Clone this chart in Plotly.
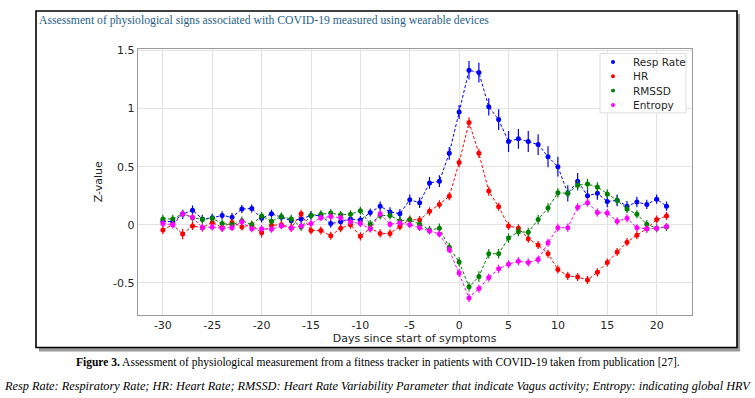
import plotly.graph_objects as go

days = list(range(-30, 22))

resp_rate = [0.03, 0.025, 0.09, 0.125, 0.05, 0.06, 0.08, 0.065, 0.135, 0.14, 0.055, 0.095,
             0.065, 0.035, 0.05, 0.08, 0.08, 0.01, 0.025, 0.05, 0.04, 0.105, 0.16, 0.11, 0.095,
             0.215, 0.19, 0.36, 0.375, 0.615, 0.97, 1.33, 1.31, 1.015, 0.905, 0.716, 0.74,
             0.716, 0.69, 0.585, 0.50, 0.27, 0.375, 0.25, 0.27, 0.20, 0.21, 0.16, 0.195,
             0.175, 0.22, 0.16]
resp_err = [0.035, 0.035, 0.04, 0.04, 0.035, 0.035, 0.035, 0.035, 0.035, 0.035, 0.035, 0.035,
            0.035, 0.035, 0.035, 0.035, 0.035, 0.035, 0.035, 0.035, 0.035, 0.035, 0.04, 0.04, 0.04,
            0.045, 0.045, 0.05, 0.05, 0.055, 0.06, 0.08, 0.085, 0.075, 0.09, 0.09, 0.085,
            0.09, 0.09, 0.09, 0.085, 0.07, 0.07, 0.055, 0.055, 0.05, 0.05, 0.045, 0.045,
            0.04, 0.04, 0.04]

hr = [-0.045, 0.0, -0.08, -0.01, -0.025, 0.02, -0.025, 0.02, -0.02, 0.0, -0.07, -0.005,
      0.0, -0.025, 0.095, -0.05, -0.05, -0.095, -0.03, 0.0, -0.1, -0.03, -0.075, -0.075, -0.015,
      0.045, 0.04, 0.115, 0.175, 0.245, 0.535, 0.88, 0.615, 0.29, 0.155, -0.01, -0.03,
      -0.12, -0.175, -0.25, -0.385, -0.44, -0.45, -0.475, -0.41, -0.325, -0.235, -0.15, -0.09,
      -0.035, 0.045, 0.075]
hr_err = [0.035, 0.03, 0.045, 0.035, 0.035, 0.03, 0.035, 0.035, 0.03, 0.035, 0.04, 0.035,
          0.035, 0.035, 0.035, 0.035, 0.035, 0.035, 0.035, 0.035, 0.035, 0.035, 0.035, 0.035, 0.035,
          0.035, 0.035, 0.035, 0.035, 0.035, 0.04, 0.045, 0.04, 0.04, 0.035, 0.035, 0.035,
          0.035, 0.035, 0.035, 0.035, 0.035, 0.035, 0.035, 0.035, 0.035, 0.035, 0.035, 0.035,
          0.035, 0.035, 0.035]

rmssd = [0.05, 0.05, 0.095, 0.06, 0.045, 0.055, 0.01, 0.0, 0.035, 0.0, 0.075, 0.03,
         0.07, 0.05, -0.02, 0.08, 0.09, 0.1, 0.085, 0.09, 0.12, 0.005, 0.08, 0.08, 0.035,
         0.04, 0.005, -0.045, -0.03, -0.195, -0.32, -0.535, -0.445, -0.25, -0.25, -0.115, -0.06,
         -0.065, 0.045, 0.145, 0.275, 0.27, 0.34, 0.35, 0.325, 0.265, 0.21, 0.135, 0.09,
         0.005, -0.03, -0.02]
rmssd_err = [0.035, 0.035, 0.035, 0.035, 0.035, 0.035, 0.035, 0.035, 0.035, 0.035, 0.035, 0.035,
             0.035, 0.035, 0.035, 0.035, 0.035, 0.035, 0.035, 0.035, 0.035, 0.035, 0.035, 0.035, 0.035,
             0.035, 0.035, 0.035, 0.04, 0.04, 0.04, 0.04, 0.045, 0.04, 0.04, 0.04, 0.04,
             0.04, 0.04, 0.04, 0.04, 0.04, 0.045, 0.045, 0.04, 0.04, 0.04, 0.035, 0.035,
             0.035, 0.035, 0.035]

entropy = [0.01, 0.0, 0.095, 0.065, -0.025, -0.02, -0.03, -0.025, 0.025, -0.035, -0.035, -0.04,
           -0.01, -0.03, -0.01, 0.01, 0.06, 0.07, 0.06, 0.025, 0.01, -0.035, 0.095, 0.005, 0.015,
           0.0, -0.025, -0.055, -0.08, -0.215, -0.415, -0.63, -0.55, -0.455, -0.38, -0.34, -0.315,
           -0.325, -0.30, -0.155, -0.025, -0.025, 0.15, 0.19, 0.105, 0.10, 0.03, 0.055, -0.025,
           -0.035, -0.03, -0.015]
entropy_err = [0.03, 0.03, 0.03, 0.03, 0.03, 0.03, 0.03, 0.03, 0.03, 0.03, 0.03, 0.03,
               0.03, 0.03, 0.03, 0.03, 0.03, 0.03, 0.03, 0.03, 0.03, 0.03, 0.03, 0.03, 0.03,
               0.03, 0.03, 0.03, 0.03, 0.03, 0.035, 0.035, 0.035, 0.035, 0.035, 0.035, 0.035,
               0.035, 0.035, 0.035, 0.035, 0.035, 0.035, 0.035, 0.035, 0.035, 0.035, 0.035, 0.03,
               0.03, 0.03, 0.03]

series_names = ["Resp Rate", "HR", "RMSSD", "Entropy"]
series_values = [resp_rate, hr, rmssd, entropy]
series_errors = [resp_err, hr_err, rmssd_err, entropy_err]
series_colors = ["#0000ff", "#ff0000", "#008000", "#ff00ff"]

x_ticks = [-30, -25, -20, -15, -10, -5, 0, 5, 10, 15, 20]
x_tick_labels = ["-30", "-25", "-20", "-15", "-10", "-5", "0", "5", "10", "15", "20"]
y_ticks = [-0.5, 0, 0.5, 1, 1.5]
y_tick_labels = ["-0.5", "0", "0.5", "1", "1.5"]

chart_title = "Assessment of physiological signs associated with COVID-19 measured using wearable devices"
caption_1 = "<b>Figure 3.</b> Assessment of physiological measurement from a fitness tracker in patients with COVID-19 taken from publication [27]."
caption_2 = "<i>Resp Rate: Respiratory Rate; HR: Heart Rate; RMSSD: Heart Rate Variability Parameter that indicate Vagus activity; Entropy: indicating global HRV</i>"

W, H = 755, 398
fig = go.Figure()

for name, vals, errs, col in zip(series_names, series_values, series_errors, series_colors):
    fig.add_trace(go.Scatter(
        x=days, y=vals, mode="lines+markers", name=name, showlegend=False,
        line=dict(color=col, width=1, dash="3px,2px"),
        marker=dict(color=col, size=5),
        error_y=dict(type="data", array=errs, visible=True, color=col, thickness=1.2, width=0),
    ))


def px(x):
    return x / W


def py(y):
    return (H - y) / H


shapes = [
    # shadow of the framed panel
    dict(type="rect", xref="paper", yref="paper", x0=px(39), x1=px(740), y0=py(351), y1=py(10),
         fillcolor="#9a9a9a", line=dict(width=0), layer="below"),
    # framed panel
    dict(type="rect", xref="paper", yref="paper", x0=px(36), x1=px(737), y0=py(347), y1=py(7),
         fillcolor="white", line=dict(color="black", width=1.6), layer="below"),
    # legend frame
    dict(type="rect", xref="paper", yref="paper", x0=px(600), x1=px(686), y0=py(110), y1=py(50),
         fillcolor="white", line=dict(color="#dddddd", width=1), layer="above"),
]

annotations = [
    dict(text=chart_title, xref="paper", yref="paper", x=px(37), y=py(17), xanchor="left",
         yanchor="middle", showarrow=False,
         font=dict(family="Liberation Serif", size=11.7, color="#1f5f88")),
    dict(text=caption_1, xref="paper", yref="paper", x=px(378), y=py(362), xanchor="center",
         yanchor="middle", showarrow=False,
         font=dict(family="Liberation Serif", size=11.5, color="black")),
    dict(text=caption_2, xref="paper", yref="paper", x=px(377), y=py(386), xanchor="center",
         yanchor="middle", showarrow=False,
         font=dict(family="Liberation Serif", size=12.3, color="black")),
]

# legend entries (marker dot + label)
legend_rows = [58.5, 73, 87.5, 102]
for name, col, ry in zip(series_names, series_colors, legend_rows):
    shapes.append(dict(type="circle", xref="paper", yref="paper",
                       x0=px(611), x1=px(615), y0=py(ry + 2), y1=py(ry - 2),
                       fillcolor=col, line=dict(width=0), layer="above"))
    annotations.append(dict(text=name, xref="paper", yref="paper", x=px(631), y=py(ry),
                            xanchor="left", yanchor="middle", showarrow=False,
                            font=dict(family="DejaVu Sans", size=10.5, color="#262626")))

fig.update_layout(
    width=W, height=H,
    margin=dict(l=0, r=0, t=0, b=0),
    paper_bgcolor="white",
    plot_bgcolor="rgba(0,0,0,0)",
    font=dict(family="DejaVu Sans", size=11, color="#262626"),
    shapes=shapes,
    annotations=annotations,
    showlegend=False,
    xaxis=dict(domain=[px(137.7), px(691.7)], range=[-32.55, 23.55],
               tickvals=x_ticks, ticktext=x_tick_labels, showgrid=True,
               gridcolor="#e3e3e3", gridwidth=1, zeroline=False,
               showline=True, mirror=True, linecolor="#9a9a9a", linewidth=1.2,
               ticks="", ticklen=0,
               title=dict(text="Days since start of symptoms", standoff=2,
                          font=dict(size=11, color="#262626"))),
    yaxis=dict(domain=[py(314), py(45)], range=[-0.776, 1.517],
               tickvals=y_ticks, ticktext=y_tick_labels, showgrid=True,
               gridcolor="#e3e3e3", gridwidth=1, zeroline=False,
               showline=True, mirror=True, linecolor="#9a9a9a", linewidth=1.2,
               ticks="", ticklen=0,
               title=dict(text="Z-value", standoff=8,
                          font=dict(size=11, color="#262626"))),
)

fig.write_html(
    "out.html",
    config={"displayModeBar": False},
    post_script="document.body.style.margin='0';document.body.style.overflow='hidden';",
)
